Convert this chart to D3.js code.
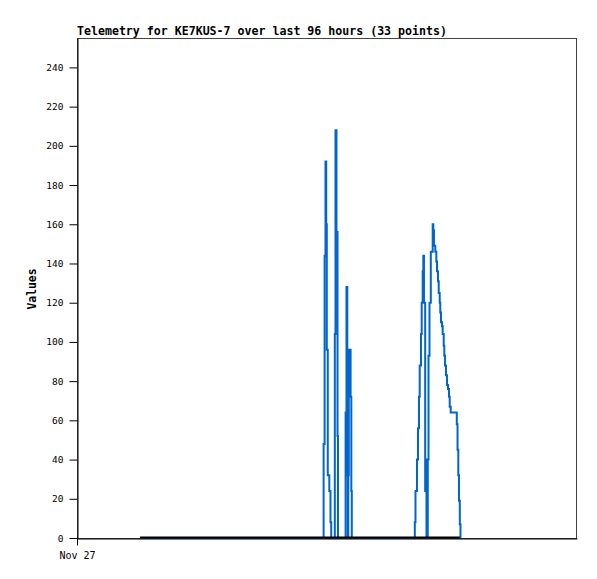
<!DOCTYPE html>
<html><head><meta charset="utf-8">
<script src="https://cdn.jsdelivr.net/npm/d3@7"></script>
<style>body{margin:0;background:#fff}</style>
</head><body>
<script>
const titleText = "Telemetry for KE7KUS-7 over last 96 hours (33 points)";
const yLabel = "Values";
const xTickHours = [0];
const xTickLabels = ["Nov 27"];
const yTicks = [0,20,40,60,80,100,120,140,160,180,200,220,240];
// blue series: hours since Nov 27 00:00, values
const blueHours = [12.10,47.29,47.35,47.54,47.71,47.85,47.96,48.15,48.44,48.67,48.81,
 49.40,49.50,49.63,49.82,50.02,50.11,
 51.51,51.57,51.74,51.90,51.99,52.09,52.19,52.42,52.53,52.67,52.76,
 64.80,64.86,64.99,65.28,65.47,65.66,65.80,66.05,66.18,66.37,66.49,66.62,66.85,66.97,67.10,67.26,
 67.35,67.49,67.68,67.93,68.29,68.41,68.54,68.79,68.99,69.12,69.31,69.45,69.64,69.75,69.89,70.08,
 70.21,70.41,70.52,70.66,70.85,71.04,71.23,71.42,71.56,71.75,72.83,72.92,73.06,73.21,73.34,73.50,73.63];
const blueValues = [0,0,48,144,192,160,96,32,24,8,0,
 0,104,208,156,52,0,
 0,64,128,32,0,32,96,96,72,24,0,
 0,8,24,40,56,72,88,104,120,136,144,120,24,40,0,0,
 40,93,120,146,160,157,149,146,141,136,131,125,120,115,110,108,
 104,98,93,88,83,78,76,72,67,64,64,58,45,32,19,7,0];
// black series (all zero)
const blackHours = [12.10, 73.50];
const blackValues = [0, 0];

const W = 597, H = 579;
const L = 77, R = 577, T = 38, B = 538;
const svg = d3.select("body").append("svg").attr("width", W).attr("height", H);
const x = d3.scaleLinear().domain([0,96]).range([L,R]);
const y = d3.scaleLinear().domain([0,255]).range([B,T]);
const font = "'DejaVu Sans Mono', monospace";

svg.append("rect").attr("x",L+0.5).attr("y",T+0.5).attr("width",R-L-1).attr("height",B-T)
  .attr("fill","none").attr("stroke","#444").attr("stroke-width",1);

const blueData = blueHours.map((h,i)=>[h, blueValues[i]]);
const blackData = blackHours.map((h,i)=>[h, blackValues[i]]);
const line = d3.line().x(d=>x(d[0])).y(d=>y(d[1])).curve(d3.curveStepAfter);

svg.append("path").attr("d", line(blueData)).attr("fill","none")
  .attr("stroke","#0066cc").attr("stroke-width",2);

const yAxis = d3.axisLeft(y).tickValues(yTicks).tickSize(8).tickSizeOuter(0).tickPadding(6);
const gy = svg.append("g").attr("transform",`translate(${L+0.5},0)`).call(yAxis);
gy.select(".domain").attr("stroke","#000");
gy.selectAll(".tick line").attr("stroke","#000");
gy.selectAll("text").attr("font-family",font).attr("font-size","9.5px").attr("fill","#000");

const xAxis = d3.axisBottom(x).tickValues(xTickHours).tickFormat((d,i)=>xTickLabels[i]).tickSize(7).tickSizeOuter(0).tickPadding(6);
const gx = svg.append("g").attr("transform",`translate(0,${B+0.5})`).call(xAxis);
gx.select(".domain").attr("stroke","#000");
gx.selectAll(".tick line").attr("stroke","#000");
gx.selectAll("text").attr("font-family",font).attr("font-size","10px").attr("fill","#000");

svg.append("path").attr("d", d3.line().x(d=>x(d[0])).y(d=>y(d[1]))(blackData))
  .attr("fill","none").attr("stroke","#000").attr("stroke-width",2)
  .attr("transform","translate(0,-0.5)");

svg.append("text").attr("x",L).attr("y",35).attr("font-family",font)
  .attr("font-size","11.6px").attr("font-weight","bold").text(titleText);

svg.append("text").attr("transform",`translate(36,289) rotate(-90)`).attr("text-anchor","middle")
  .attr("font-family",font).attr("font-size","11.4px").attr("font-weight","bold").text(yLabel);
</script>
</body></html>
